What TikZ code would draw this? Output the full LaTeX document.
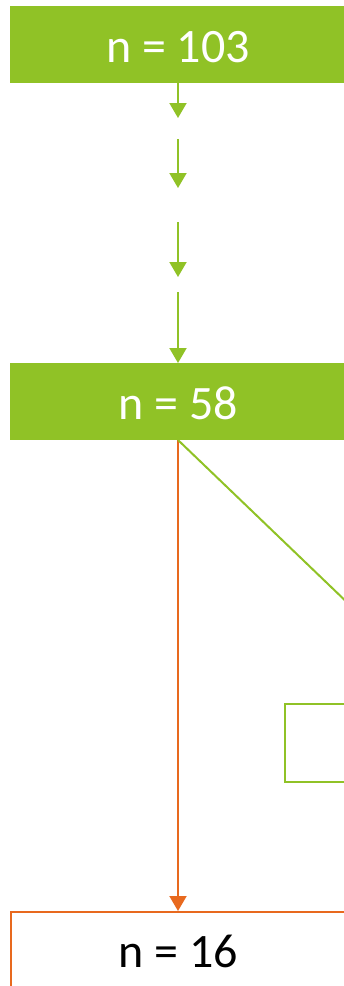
\documentclass[tikz,border=0pt]{standalone}
\usepackage{fontspec}
\setmainfont{Carlito}
\usetikzlibrary{arrows.meta}
\definecolor{grn}{HTML}{90C226}
\definecolor{org}{HTML}{E8691E}
\tikzset{
  greenbox/.style={rectangle, fill=grn, draw=none, anchor=north west, inner sep=0pt, minimum height=77pt, minimum width=360pt},
  orangebox/.style={rectangle, fill=white, draw=org, line width=1.5pt, anchor=north west, inner sep=0pt, minimum height=100pt, minimum width=360pt},
  outlinebox/.style={rectangle, draw=grn, line width=1.5pt, anchor=north west, inner sep=0pt, minimum height=78pt, minimum width=100pt},
  boxtext/.style={anchor=base, inner sep=0pt, font=\fontsize{48}{58}\selectfont},
  garrow/.style={draw=grn, line width=2pt, -{Triangle[width=17pt,length=15pt]}},
  oarrow/.style={draw=org, line width=2pt, -{Triangle[width=17pt,length=15pt]}},
  gline/.style={draw=grn, line width=2pt}
}
\begin{document}
\begin{tikzpicture}[x=1pt,y=-1pt]
\useasboundingbox (0,0) rectangle (344,986);
\clip (0,0) rectangle (344,986);
\node[greenbox] (b1) at (10,6) {};
\node[boxtext, text=white] (t1) at (178,62) {n = 103};
\node[greenbox] (b2) at (10,363) {};
\node[boxtext, text=white] (t2) at (178,419) {n = 58};
\node[outlinebox] (b4) at (284,703) {};
\node[orangebox] (b3) at (10,911) {};
\node[boxtext, text=black] (t3) at (178,967) {n = 16};
\coordinate (a1s) at (178,83);
\coordinate (a1e) at (178,118);
\coordinate (a2s) at (178,139);
\coordinate (a2e) at (178,188);
\coordinate (a3s) at (178,222);
\coordinate (a3e) at (178,277);
\coordinate (a4s) at (178,292);
\coordinate (b2top) at (178,363);
\coordinate (b2bot) at (178,440);
\coordinate (b3top) at (178,911);
\coordinate (diagend) at (378,632);
\draw[garrow] (a1s) -- (a1e);
\draw[garrow] (a2s) -- (a2e);
\draw[garrow] (a3s) -- (a3e);
\draw[garrow] (a4s) -- (b2top);
\draw[oarrow] (b2bot) -- (b3top);
\draw[gline] (b2bot) -- (diagend);
\end{tikzpicture}
\end{document}
